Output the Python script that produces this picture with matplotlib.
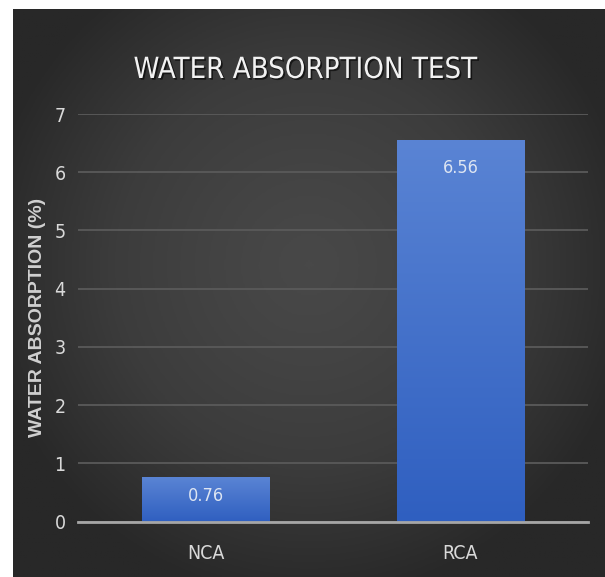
import numpy as np
import matplotlib.pyplot as plt
import matplotlib.patheffects as pe
from matplotlib.colors import LinearSegmentedColormap
from matplotlib import font_manager

categories = ["NCA", "RCA"]
values = [0.76, 6.56]
yticks = [0, 1, 2, 3, 4, 5, 6, 7]
title = "WATER ABSORPTION TEST"
ylabel = "WATER ABSORPTION (%)"

# condensed face for the Calibri-like text
cond = font_manager.FontProperties(family="DejaVu Sans", stretch="condensed")
txt = "#d9d9d9"

fig = plt.figure(figsize=(6.05, 5.77), dpi=100)
fig.patch.set_facecolor("white")

# dark panel with radial gradient
bg = fig.add_axes([13 / 605, 0, 1 - 13 / 605, 1 - 9 / 577])
bg.set_axis_off()
yy, xx = np.mgrid[0:1:300j, 0:1:300j]
r = np.sqrt(((xx - 0.5) / 0.8) ** 2 + ((yy - 0.45) / 0.85) ** 2)
r = np.clip(r / 0.7, 0, 1) ** 1.3
bg_cmap = LinearSegmentedColormap.from_list("bg", ["#484848", "#3c3c3c", "#282828"])
bg.imshow(r, cmap=bg_cmap, aspect="auto", extent=[0, 1, 0, 1], origin="upper")

ax = fig.add_axes([78 / 605, 1 - 521.7 / 577, (588 - 78) / 605, (521.7 - 114) / 577])
ax.patch.set_alpha(0)
x = np.arange(len(categories))
bars = ax.bar(x, values, width=0.5, color="#4472c4", zorder=3)

# vertical gradient inside bars
bar_cmap = LinearSegmentedColormap.from_list("bar", ["#2f5fc0", "#5a84d4"])
grad = np.linspace(0, 1, 256).reshape(-1, 1)
for b in bars:
    b.set_facecolor("none")
    im = ax.imshow(grad, cmap=bar_cmap, aspect="auto", origin="lower",
                   extent=[b.get_x(), b.get_x() + b.get_width(), 0, b.get_height()],
                   zorder=3)
    im.set_clip_path(b)

label_offsets = [-19, -28]
for b, v, off in zip(bars, values, label_offsets):
    ax.annotate(f"{v:.2f}", (b.get_x() + b.get_width() / 2, v),
                xytext=(0, off * 0.72), textcoords="offset points",
                ha="center", va="center", color="#dde5f2", fontsize=13,
                fontproperties=cond, zorder=4)

ax.set_xlim(-0.5, 1.5)
ax.set_ylim(0, 7)
ax.set_yticks(yticks)
ax.set_xticks(x)
ax.set_xticklabels(categories)
ax.tick_params(axis="both", length=0, colors=txt)
ax.tick_params(axis="y", pad=9)
ax.tick_params(axis="x", pad=16)
for lab in ax.get_xticklabels() + ax.get_yticklabels():
    lab.set_fontproperties(cond)
    lab.set_fontsize(14)
ax.grid(axis="y", color="#5a5a5a", linewidth=1.3, zorder=1)
for s in ["top", "right", "left"]:
    ax.spines[s].set_visible(False)
ax.spines["bottom"].set_color("#a6a6a6")
ax.spines["bottom"].set_linewidth(2)
ax.spines["bottom"].set_zorder(4)

ax.set_ylabel(ylabel, color="#d0d0d0", fontsize=14, fontweight="bold",
              family="Liberation Sans", labelpad=6)

t = fig.text(0.505, 1 - 70 / 577, title, ha="center", va="center", color="#f2f2f2",
             fontproperties=cond,
             path_effects=[pe.withSimplePatchShadow(offset=(1.2, -1.2), shadow_rgbFace="black", alpha=0.6)])
t.set_fontsize(21)

fig.savefig("out.png", dpi=100)
